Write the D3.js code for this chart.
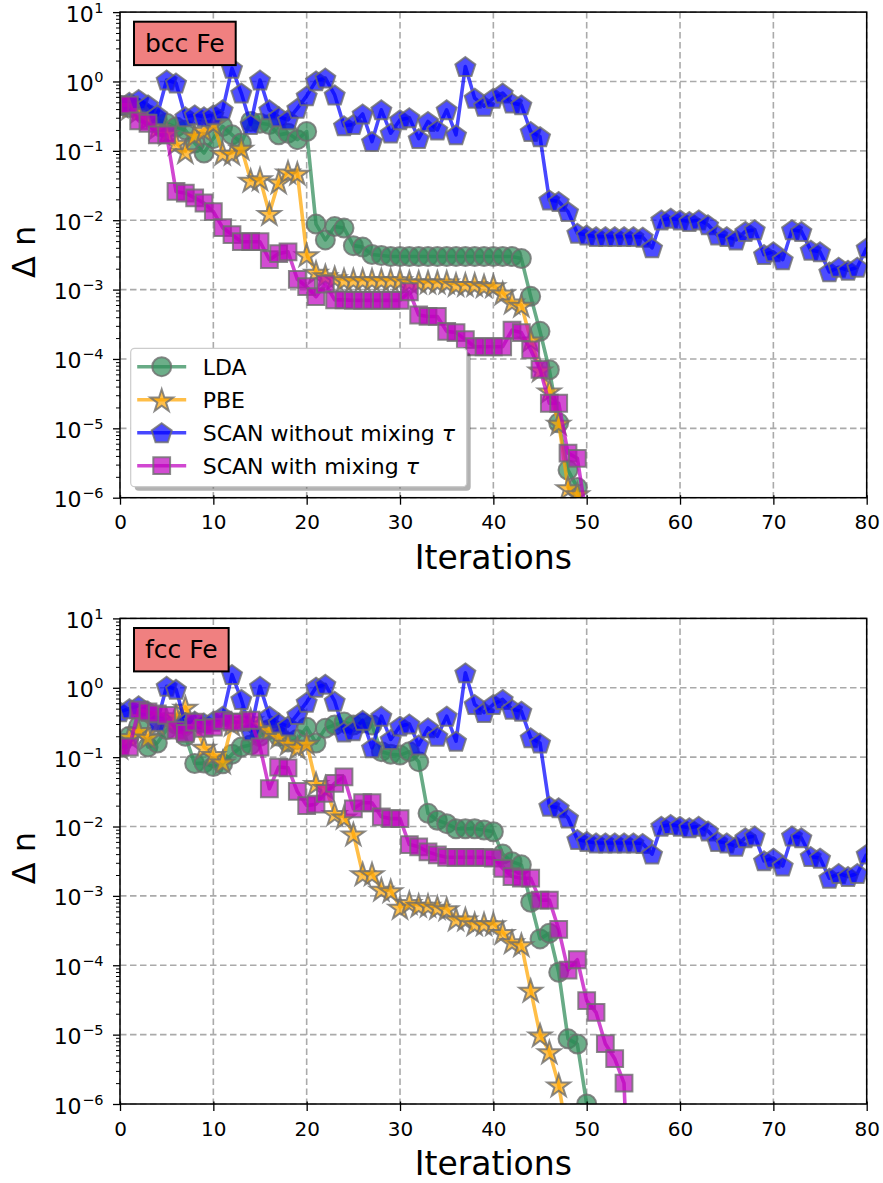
<!DOCTYPE html>
<html>
<head>
<meta charset="utf-8">
<script src="https://cdn.jsdelivr.net/npm/d3@7"></script>
<style>
  body { margin: 0; background: #fff; }
  svg { display: block; font-family: "DejaVu Sans", sans-serif; }
</style>
</head>
<body>
<div id="chart"></div>
<script>
// ---- data (index = iteration) ----
var xTicks = [0, 10, 20, 30, 40, 50, 60, 70, 80];
var yTickExps = [-6, -5, -4, -3, -2, -1, 0, 1];
var panelLabels = ["bcc Fe", "fcc Fe"];
var seriesNames = ["LDA", "PBE", "SCAN without mixing", "SCAN with mixing"];
var seriesTau = [false, false, true, true];
var seriesColors = ["#2e8b57", "#ffa500", "#0000ff", "#bf00bf"];
var seriesMarkers = ["circle", "star", "pentagon", "square"];

// SCAN without mixing tau (same run in both panels)
var scanNoMix = [0.45, 0.5, 0.55, 0.46, 0.33, 1.05, 0.95, 0.31, 0.33, 0.31,
  0.33, 0.39, 1.55, 0.68, 0.24, 1.05, 0.39, 0.31, 0.28, 0.41,
  0.62, 1.02, 1.12, 0.64, 0.23, 0.24, 0.34, 0.136, 0.39, 0.18,
  0.28, 0.30, 0.15, 0.265, 0.20, 0.39, 0.17, 1.64, 0.575, 0.44,
  0.575, 0.68, 0.49, 0.46, 0.19, 0.16, 0.0196, 0.0186, 0.0133, 0.0065,
  0.0061, 0.0058, 0.0058, 0.0058, 0.0058, 0.0058, 0.0057, 0.0040, 0.0101, 0.0107,
  0.0101, 0.0096, 0.0101, 0.0086, 0.0061, 0.0058, 0.0052, 0.0069, 0.0073, 0.0032,
  0.0035, 0.0027, 0.0073, 0.0069, 0.0037, 0.0035, 0.0018, 0.0021, 0.0019, 0.0021,
  0.0040];

var ldaBcc = [0.45, 0.42, 0.38, 0.33, 0.28, 0.25, 0.22, 0.2, 0.13, 0.093,
  0.15, 0.225, 0.17, 0.13, 0.265, 0.25, 0.24, 0.17, 0.18, 0.145,
  0.19, 0.0088, 0.0052, 0.0081, 0.0077, 0.0043, 0.0041, 0.0032, 0.0031, 0.0030,
  0.0030, 0.0030, 0.0030, 0.0030, 0.0030, 0.0030, 0.0030, 0.0030, 0.0030, 0.0030,
  0.0030, 0.0030, 0.0030, 0.0028, 0.0008, 0.00025, 7e-5, 1.2e-5, 2.5e-6, 1.4e-6,
  4e-7];

var pbeBcc = [0.45, 0.42, 0.38, 0.3, 0.22, 0.18, 0.13, 0.098, 0.17, 0.2,
  0.25, 0.093, 0.093, 0.11, 0.038, 0.040, 0.0126, 0.036, 0.050, 0.048,
  0.0032, 0.0018, 0.0016, 0.0015, 0.0014, 0.0014, 0.0014, 0.0014, 0.0014, 0.0014,
  0.0014, 0.0013, 0.0013, 0.0013, 0.0013, 0.0013, 0.0012, 0.0012, 0.0012, 0.00115,
  0.00115, 0.0009, 0.00067, 0.0006, 0.00019, 7e-5, 3.5e-5, 1.2e-5, 1.4e-6, 1.15e-6,
  3e-7];

var mixBcc = [0.46, 0.46, 0.27, 0.25, 0.17, 0.17, 0.026, 0.0245, 0.021, 0.0177,
  0.0133, 0.0078, 0.0062, 0.0049, 0.0049, 0.0049, 0.0027, 0.0033, 0.0035, 0.0014,
  0.0011, 0.00079, 0.0012, 0.00071, 0.00071, 0.0007, 0.0007, 0.0007, 0.0007, 0.0007,
  0.0007, 0.00093, 0.00043, 0.00041, 0.00041, 0.00025, 0.00024, 0.00019, 0.00015, 0.00015,
  0.00015, 0.00015, 0.00026, 0.00024, 0.000135, 7.1e-5, 2.3e-5, 2.3e-5, 4.4e-6, 3.7e-6,
  5e-7];

var ldaFcc = [0.14, 0.2, 0.28, 0.14, 0.16, 0.25, 0.3, 0.2, 0.081, 0.082,
  0.073, 0.08, 0.11, 0.14, 0.15, 0.2, 0.25, 0.2, 0.165, 0.18,
  0.27, 0.16, 0.26, 0.29, 0.32, 0.29, 0.31, 0.29, 0.12, 0.11,
  0.107, 0.12, 0.086, 0.0155, 0.0123, 0.011, 0.0093, 0.0093, 0.0093, 0.0089,
  0.0084, 0.004, 0.0031, 0.0028, 0.00081, 0.00024, 0.00029, 7.9e-5, 8.7e-6, 7.3e-6,
  1e-6];

var pbeFcc = [0.14, 0.2, 0.245, 0.196, 0.3, 0.35, 0.4, 0.53, 0.3, 0.14,
  0.11, 0.086, 0.3, 0.35, 0.35, 0.3, 0.25, 0.2, 0.16, 0.14,
  0.16, 0.042, 0.037, 0.0155, 0.0138, 0.0079, 0.0021, 0.0021, 0.00126, 0.0012,
  0.00069, 0.00081, 0.00074, 0.00074, 0.00069, 0.00066, 0.00047, 0.00047, 0.0004, 0.0004,
  0.0004, 0.0003, 0.00022, 0.0002, 4.4e-5, 1e-5, 5.7e-6, 1.9e-6, 3e-7];

var mixFcc = [0.14, 0.14, 0.48, 0.45, 0.42, 0.4, 0.245, 0.22, 0.32, 0.26,
  0.27, 0.34, 0.32, 0.32, 0.34, 0.14, 0.035, 0.072, 0.07, 0.032,
  0.02, 0.021, 0.03, 0.042, 0.052, 0.018, 0.022, 0.022, 0.0138, 0.013,
  0.013, 0.0055, 0.0051, 0.0043, 0.0039, 0.0036, 0.0036, 0.0036, 0.0036, 0.0036,
  0.0035, 0.0025, 0.0019, 0.0018, 0.0018, 0.00087, 0.00087, 0.00033, 8.5e-5, 0.00012,
  3.1e-5, 2.1e-5, 7.4e-6, 4.5e-6, 2e-6, 1e-9];

var panels = [
  { label: panelLabels[0], series: [ldaBcc, pbeBcc, scanNoMix, mixBcc], legend: true },
  { label: panelLabels[1], series: [ldaFcc, pbeFcc, scanNoMix, mixFcc], legend: false }
];

// ---- layout ----
var width = 883, height = 1183;
var plotLeft = 120, plotRight = 866.7;
var panelTops = [12.1, 618.4], panelH = 485.6;

var svg = d3.select("#chart").append("svg")
  .attr("width", width).attr("height", height);

var x = d3.scaleLinear().domain([0, 80]).range([plotLeft, plotRight]);

function markerPath(type) {
  var pts = [], i, a;
  if (type == "circle") {
    var r = 9.5;
    return "M" + r + ",0A" + r + "," + r + " 0 1,1 " + (-r) + ",0A" + r + "," + r + " 0 1,1 " + r + ",0Z";
  }
  if (type == "square") {
    var h = 8.4;
    return "M" + (-h) + "," + (-h) + "H" + h + "V" + h + "H" + (-h) + "Z";
  }
  if (type == "star") {
    for (i = 0; i < 10; i++) {
      a = -Math.PI / 2 + i * Math.PI / 5;
      var rr = i % 2 ? 12 * 0.382 : 12;
      pts.push([rr * Math.cos(a), rr * Math.sin(a) + 1.5]);
    }
  }
  if (type == "pentagon") {
    for (i = 0; i < 5; i++) {
      a = -Math.PI / 2 + i * 2 * Math.PI / 5;
      pts.push([10.5 * Math.cos(a), 10.5 * Math.sin(a) + 1]);
    }
  }
  return "M" + pts.map(function (p) { return p[0].toFixed(2) + "," + p[1].toFixed(2); }).join("L") + "Z";
}

panels.forEach(function (p, pi) {
  var top = panelTops[pi], bottom = top + panelH;
  var y = d3.scaleLog().domain([1e-6, 10]).range([bottom, top]);
  var g = svg.append("g");

  var clipId = "clip" + pi;
  svg.append("clipPath").attr("id", clipId)
    .append("rect")
    .attr("x", plotLeft).attr("y", top)
    .attr("width", plotRight - plotLeft).attr("height", panelH);

  // grid
  var grid = g.append("g")
    .attr("stroke", "#aaaaaa").attr("stroke-width", 1.6)
    .attr("stroke-dasharray", "6.5,3.5");
  grid.selectAll(".gx").data(xTicks).join("line")
    .attr("x1", function (d) { return x(d); }).attr("x2", function (d) { return x(d); })
    .attr("y1", top).attr("y2", bottom);
  grid.selectAll(".gy").data(yTickExps).join("line")
    .attr("x1", plotLeft).attr("x2", plotRight)
    .attr("y1", function (d) { return y(Math.pow(10, d)); })
    .attr("y2", function (d) { return y(Math.pow(10, d)); });

  // series
  var plot = g.append("g").attr("clip-path", "url(#" + clipId + ")");
  var line = d3.line()
    .x(function (d, i) { return x(i); })
    .y(function (d) { return y(d); });

  p.series.forEach(function (vals, si) {
    var sg = plot.append("g");
    sg.append("path")
      .attr("d", line(vals))
      .attr("fill", "none")
      .attr("stroke", seriesColors[si])
      .attr("stroke-opacity", 0.72)
      .attr("stroke-width", 3.6)
      .attr("stroke-linejoin", "round");
    sg.selectAll("path.m").data(vals).join("path")
      .attr("class", "m")
      .attr("d", markerPath(seriesMarkers[si]))
      .attr("transform", function (d, i) { return "translate(" + x(i) + "," + y(d) + ")"; })
      .attr("fill", seriesColors[si])
      .attr("fill-opacity", 0.7)
      .attr("stroke", "#6e6e6e")
      .attr("stroke-opacity", 0.8)
      .attr("stroke-width", 2);
  });

  // spines
  g.append("rect")
    .attr("x", plotLeft).attr("y", top)
    .attr("width", plotRight - plotLeft).attr("height", panelH)
    .attr("fill", "none").attr("stroke", "#000").attr("stroke-width", 1.5);

  // x axis
  var xAxis = g.append("g")
    .attr("transform", "translate(0," + bottom + ")")
    .call(d3.axisBottom(x).tickValues(xTicks).tickSize(7).tickFormat(d3.format("d")));
  xAxis.select(".domain").remove();
  xAxis.selectAll(".tick line").attr("y1", -2.5).attr("stroke-width", 1.3);
  xAxis.selectAll(".tick text")
    .attr("y", 31.5).attr("dy", null)
    .attr("font-size", 20).attr("font-family", "DejaVu Sans").attr("fill", "#000");

  // y axis: major and minor ticks
  var minor = [];
  d3.range(-6, 1).forEach(function (k) {
    d3.range(2, 10).forEach(function (m) { minor.push(m * Math.pow(10, k)); });
  });
  var yMinor = g.append("g").attr("transform", "translate(" + plotLeft + ",0)")
    .call(d3.axisLeft(y).tickValues(minor).tickSize(4).tickFormat(""));
  yMinor.select(".domain").remove();
  yMinor.selectAll(".tick line").attr("stroke-width", 1);
  var yMajor = g.append("g").attr("transform", "translate(" + plotLeft + ",0)")
    .call(d3.axisLeft(y).tickValues(yTickExps.map(function (e) { return Math.pow(10, e); })).tickSize(7).tickFormat(""));
  yMajor.select(".domain").remove();
  yMajor.selectAll(".tick line").attr("stroke-width", 1.3);

  // y tick labels 10^k
  yTickExps.forEach(function (e) {
    var yy = y(Math.pow(10, e));
    var ex = g.append("text")
      .attr("x", 103.5).attr("y", yy + 0.5)
      .attr("text-anchor", "end")
      .attr("font-size", 14.5)
      .text(e < 0 ? "\u2212" + (-e) : String(e));
    var ew = ex.node().getComputedTextLength();
    g.append("text")
      .attr("x", 103.5 - ew - 0.5).attr("y", yy + 9.5)
      .attr("text-anchor", "end")
      .attr("font-size", 22)
      .text("10");
  });

  // axis labels
  g.append("text")
    .attr("transform", "translate(35," + ((top + bottom) / 2 - 3) + ") rotate(-90)")
    .attr("text-anchor", "middle")
    .attr("font-size", 32)
    .text("\u0394 n");
  g.append("text")
    .attr("x", (plotLeft + plotRight) / 2).attr("y", bottom + 71.3)
    .attr("text-anchor", "middle")
    .attr("font-size", 33)
    .text("Iterations");

  // panel tag
  var tag = g.append("g");
  var tagText = tag.append("text")
    .attr("x", plotLeft + 25).attr("y", top + 39.5)
    .attr("font-size", 25)
    .text(p.label);
  var tw = tagText.node().getComputedTextLength();
  tag.insert("rect", "text")
    .attr("x", plotLeft + 14).attr("y", top + 9.6)
    .attr("width", tw + 22).attr("height", 43.4)
    .attr("fill", "#f08080").attr("stroke", "#000").attr("stroke-width", 2);

  // legend
  if (p.legend) {
    var lx = plotLeft + 10.7, ly = bottom - 149.4, lw = 336, lh = 138.4;
    var leg = g.append("g");
    leg.append("rect")
      .attr("x", lx + 4).attr("y", ly + 4).attr("width", lw).attr("height", lh)
      .attr("rx", 4).attr("fill", "#000").attr("fill-opacity", 0.3);
    leg.append("rect")
      .attr("x", lx).attr("y", ly).attr("width", lw).attr("height", lh)
      .attr("rx", 4).attr("fill", "#fff").attr("stroke", "#cccccc").attr("stroke-width", 1.2);
    seriesNames.forEach(function (name, si) {
      var cy = ly + 18.4 + si * 33;
      leg.append("line")
        .attr("x1", lx + 6.5).attr("x2", lx + 55.5)
        .attr("y1", cy).attr("y2", cy)
        .attr("stroke", seriesColors[si]).attr("stroke-opacity", 0.72)
        .attr("stroke-width", 3.6);
      leg.append("path")
        .attr("d", markerPath(seriesMarkers[si]))
        .attr("transform", "translate(" + (lx + 31) + "," + cy + ")")
        .attr("fill", seriesColors[si]).attr("fill-opacity", 0.7)
        .attr("stroke", "#6e6e6e").attr("stroke-opacity", 0.8).attr("stroke-width", 2);
      var t = leg.append("text")
        .attr("x", lx + 72).attr("y", cy + 8)
        .attr("font-size", 22)
        .text(name);
      if (seriesTau[si]) {
        t.append("tspan").text(" ");
        t.append("tspan").attr("font-style", "italic").text("\u03c4");
      }
    });
  }
});
</script>
</body>
</html>
